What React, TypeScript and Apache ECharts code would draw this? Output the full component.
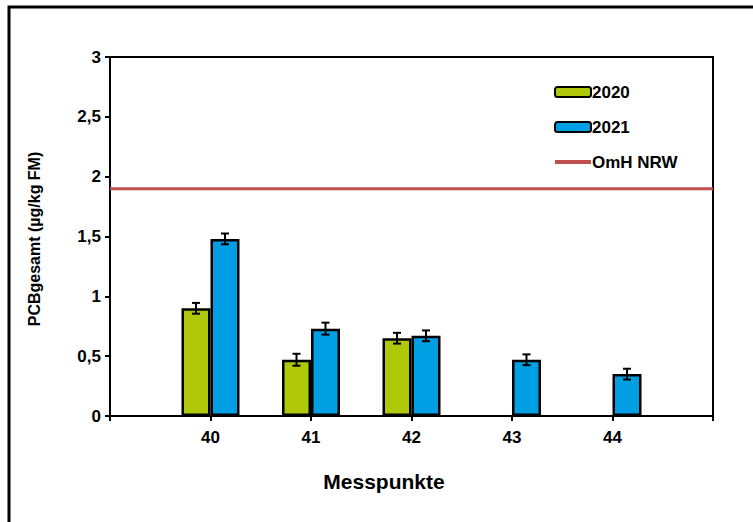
import React, { useEffect, useRef } from "react";
import * as echarts from "echarts";

const categories = ["", "40", "41", "42", "43", "44", ""];
const values2020 = [null, 0.9, 0.47, 0.65, null, null, null];
const values2021 = [null, 1.48, 0.73, 0.67, 0.47, 0.35, null];
const err2020 = [null, 0.045, 0.05, 0.045, null, null, null];
const err2021 = [null, 0.045, 0.05, 0.045, 0.045, 0.045, null];
const omhValue = 1.9;
const yTicks = [0, 0.5, 1, 1.5, 2, 2.5, 3];

const FONT = "Liberation Sans, Arial, sans-serif";
const BAR_W = 29;

function errData(vals: (number | null)[], errs: (number | null)[]) {
  const out: any[] = [];
  vals.forEach((v, i) => {
    const e = errs[i];
    if (v != null && e != null) out.push([i, v - e, v + e]);
  });
  return out;
}

function makeErrRender(offset: number) {
  return (params: any, api: any) => {
    const x = api.value(0);
    const lo = api.coord([x, api.value(1)]);
    const hi = api.coord([x, api.value(2)]);
    const cx = lo[0] + offset;
    const cap = 4;
    const style = { stroke: "#000", lineWidth: 2 };
    return {
      type: "group",
      children: [
        { type: "line", shape: { x1: cx, y1: lo[1], x2: cx, y2: hi[1] }, style },
        { type: "line", shape: { x1: cx - cap, y1: lo[1], x2: cx + cap, y2: lo[1] }, style },
        { type: "line", shape: { x1: cx - cap, y1: hi[1], x2: cx + cap, y2: hi[1] }, style },
      ],
    };
  };
}

export default function App() {
  const ref = useRef<HTMLDivElement>(null);
  useEffect(() => {
    if (!ref.current) return;
    const chart = echarts.init(ref.current, undefined, { renderer: "svg" });
    chart.setOption({
      animation: false,
      backgroundColor: "#fff",
      textStyle: { fontFamily: FONT },
      grid: {
        left: 110,
        right: 40,
        top: 57,
        bottom: 106,
        show: true,
        borderColor: "#000",
        borderWidth: 2,
        backgroundColor: "transparent",
      },
      legend: {
        orient: "vertical",
        left: 553,
        top: 83,
        padding: 0,
        itemWidth: 36,
        itemHeight: 10,
        itemGap: 17,
        textStyle: {
          fontFamily: FONT,
          fontWeight: "bold",
          fontSize: 17,
          lineHeight: 18,
          color: "#000",
          padding: [0, 0, 0, -4],
        },
        data: [
          { name: "2020" },
          { name: "2021" },
          { name: "OmH NRW", itemStyle: { opacity: 0 }, lineStyle: { width: 4, color: "#C0504D" } },
        ],
      },
      xAxis: {
        type: "category",
        data: categories,
        boundaryGap: false,
        axisLine: { lineStyle: { color: "#000", width: 2 } },
        axisTick: { show: true, length: 5, interval: 0, lineStyle: { color: "#000", width: 2 } },
        axisLabel: {
          interval: 0,
          margin: 13,
          fontFamily: FONT,
          fontWeight: "bold",
          fontSize: 17,
          color: "#000",
        },
        splitLine: { show: false },
      },
      yAxis: {
        type: "value",
        min: 0,
        max: 3,
        interval: 0.5,
        axisLine: { show: true, lineStyle: { color: "#000", width: 2 } },
        axisTick: { show: true, length: 5, lineStyle: { color: "#000", width: 2 } },
        axisLabel: {
          margin: 9,
          fontFamily: FONT,
          fontWeight: "bold",
          fontSize: 17,
          color: "#000",
          formatter: (v: number) => (yTicks.includes(v) ? String(v).replace(".", ",") : ""),
        },
        splitLine: { show: false },
      },
      series: [
        {
          name: "2020",
          type: "bar",
          data: values2020,
          barWidth: BAR_W,
          barGap: "0%",
          itemStyle: { color: "#AFC90A", borderColor: "#000", borderWidth: 2.5 },
          z: 2,
        },
        {
          name: "2021",
          type: "bar",
          data: values2021,
          barWidth: BAR_W,
          barGap: "0%",
          itemStyle: { color: "#009FE3", borderColor: "#000", borderWidth: 2.5 },
          z: 2,
        },
        {
          name: "OmH NRW",
          type: "line",
          data: categories.map(() => omhValue),
          symbol: "none",
          lineStyle: { color: "#C0504D", width: 3 },
          itemStyle: { color: "#C0504D" },
          z: 3,
        },
        {
          name: "err2020",
          type: "custom",
          data: errData(values2020, err2020),
          encode: { x: 0, y: [1, 2] },
          renderItem: makeErrRender(-BAR_W / 2),
          z: 4,
        },
        {
          name: "err2021",
          type: "custom",
          data: errData(values2021, err2021),
          encode: { x: 0, y: [1, 2] },
          renderItem: makeErrRender(BAR_W / 2),
          z: 4,
        },
      ],
      graphic: [
        {
          type: "rect",
          shape: { x: 9, y: 7, width: 800, height: 600 },
          style: { fill: "none", stroke: "#000", lineWidth: 3 },
          silent: true,
        },
        {
          type: "text",
          x: 34,
          y: 239,
          rotation: Math.PI / 2,
          style: {
            text: "PCBgesamt (µg/kg FM)",
            fontFamily: FONT,
            fontWeight: "bold",
            fontSize: 16,
            fill: "#000",
            align: "center",
            verticalAlign: "middle",
          },
        },
        {
          type: "text",
          x: 384,
          y: 481,
          style: {
            text: "Messpunkte",
            fontFamily: FONT,
            fontWeight: "bold",
            fontSize: 21,
            fill: "#000",
            align: "center",
            verticalAlign: "middle",
          },
        },
      ],
    });
    return () => chart.dispose();
  }, []);
  return (
    <div
      ref={ref}
      style={{ position: "fixed", left: 0, top: 0, width: 753, height: 522, background: "#fff" }}
    />
  );
}
